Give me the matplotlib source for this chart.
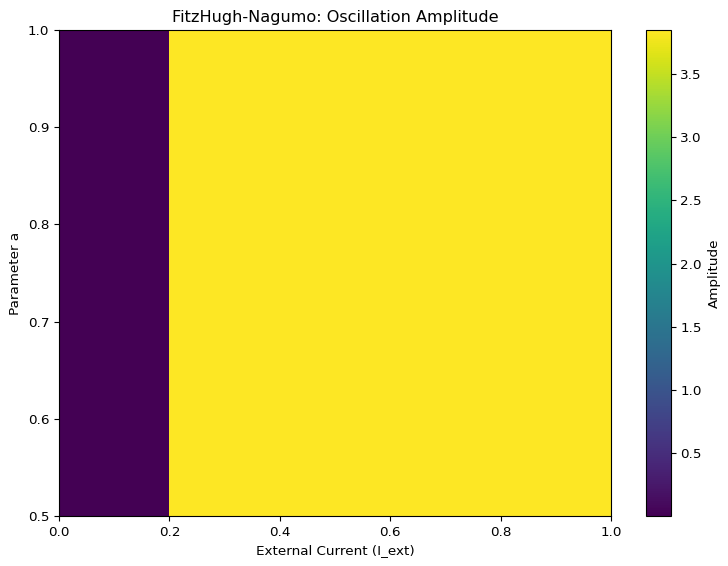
import numpy as np
import matplotlib
matplotlib.use("Agg")
import matplotlib.pyplot as plt

plt.rcParams['font.size'] = 9.7

# Data
I_ext = [0.0, 0.25, 0.5, 0.75, 1.0]
a_values = [0.5, 0.625, 0.75, 0.875, 1.0]
amplitude = [
    [0.005, 3.847, 3.847, 3.847, 3.847],
    [0.005, 3.847, 3.847, 3.847, 3.847],
    [0.005, 3.847, 3.847, 3.847, 3.847],
    [0.005, 3.847, 3.847, 3.847, 3.847],
    [0.005, 3.847, 3.847, 3.847, 3.847],
]
cbar_ticks = [0.5, 1.0, 1.5, 2.0, 2.5, 3.0, 3.5]

fig = plt.figure(figsize=(7.28, 5.66), dpi=100)
ax = fig.add_axes([59/728, 50/566, 552/728, 486/566])
cax = fig.add_axes([645.5/728, 50/566, 25/728, 486/566])

im = ax.imshow(np.array(amplitude), origin='lower', aspect='auto', cmap='viridis',
               extent=[min(I_ext), max(I_ext), min(a_values), max(a_values)])
ax.set_title('FitzHugh-Nagumo: Oscillation Amplitude')
ax.set_xlabel('External Current (I_ext)')
ax.set_ylabel('Parameter a')
cb = fig.colorbar(im, cax=cax)
cb.set_ticks(cbar_ticks)
cb.set_label('Amplitude')

fig.savefig('out.png', dpi=100)
